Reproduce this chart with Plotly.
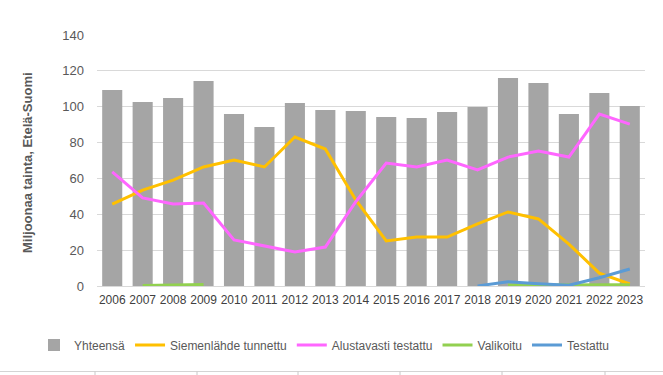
import plotly.graph_objects as go

years = [str(y) for y in range(2006, 2024)]
yhteensa = [109.3, 102.6, 104.9, 114.3, 95.9, 88.7, 102.1, 98.2, 97.6, 94.3,
            93.7, 97.0, 99.8, 116.0, 113.2, 95.9, 107.6, 100.4]
siemenlahde = [45.7, 53.5, 59.0, 66.4, 70.3, 66.4, 83.1, 76.4, 48.0, 25.1,
               27.3, 27.3, 34.6, 41.3, 37.4, 23.4, 7.2, 1.1]
alustavasti = [63.6, 49.1, 45.7, 46.3, 25.7, 22.3, 19.0, 21.7, 47.0, 68.6,
               66.4, 70.3, 64.7, 71.9, 75.3, 71.9, 95.9, 90.3]
valikoitu = [None, 0.3, 0.6, 0.8, None, None, None, None, None, None,
             None, None, None, 0.5, 0.5, 0.5, 0.9, 0.7]
testattu = [None, None, None, None, None, None, None, None, None, None,
            None, None, 0.0, 2.4, 1.3, 0.4, 4.6, 9.5]

ytitle = "Miljoonaa tainta, Etelä-Suomi"
font_family = "Liberation Sans, Arial, sans-serif"
txt = "#595959"

fig = go.Figure()
fig.add_trace(go.Bar(x=years, y=yhteensa, name="Yhteensä", marker_color="#a5a5a5",
                     marker_line_width=0))
fig.add_trace(go.Scatter(x=years, y=siemenlahde, name="Siemenlähde tunnettu", mode="lines",
                         line=dict(color="#ffc000", width=3)))
fig.add_trace(go.Scatter(x=years, y=alustavasti, name="Alustavasti testattu", mode="lines",
                         line=dict(color="#ff66ff", width=3)))
fig.add_trace(go.Scatter(x=years, y=valikoitu, name="Valikoitu", mode="lines",
                         line=dict(color="#92d050", width=3), connectgaps=False))
fig.add_trace(go.Scatter(x=years, y=testattu, name="Testattu", mode="lines",
                         line=dict(color="#5b9bd5", width=3), connectgaps=False))

W, H = 663, 375
L, R, T, B = 97, 18, 35, 89
pw, ph = W - L - R, H - T - B

def px(xp):
    return (xp - L) / pw

def py(yp):
    return (H - B - yp) / ph

shapes = [dict(type="line", xref="paper", yref="paper", x0=px(0), x1=px(W), y0=py(371.5), y1=py(371.5),
               line=dict(color="#d4d4d4", width=1))]
for tx in [95, 197, 298, 400, 502, 605]:
    shapes.append(dict(type="line", xref="paper", yref="paper", x0=px(tx), x1=px(tx),
                       y0=py(371.5), y1=py(375), line=dict(color="#c8c8c8", width=1)))

fig.update_layout(
    width=W, height=H,
    margin=dict(l=L, r=R, t=T, b=B, autoexpand=False),
    paper_bgcolor="white", plot_bgcolor="white",
    font=dict(family=font_family, size=12, color=txt),
    bargap=0.34,
    showlegend=True,
    legend=dict(orientation="h", xref="paper", yref="paper", x=px(34), y=py(345),
                xanchor="left", yanchor="middle", font=dict(size=12, color=txt),
                itemwidth=30, tracegroupgap=0, traceorder="normal", bgcolor="rgba(0,0,0,0)"),
    xaxis=dict(type="category", showgrid=False, showline=True, linecolor="#d9d9d9", linewidth=1,
               ticks="", ticklabelstandoff=3, tickfont=dict(size=12, color="#404040"), fixedrange=True),
    yaxis=dict(range=[0, 140], dtick=20, showgrid=True, gridcolor="#d9d9d9", gridwidth=1,
               zeroline=False, showline=False, ticks="", ticklabelstandoff=12,
               tickfont=dict(size=13, color=txt), fixedrange=True),
    shapes=shapes,
    annotations=[dict(text="<b>" + ytitle + "</b>", xref="paper", yref="paper",
                      x=px(27), y=py(163), textangle=-90, showarrow=False,
                      xanchor="center", yanchor="middle",
                      font=dict(size=13, color=txt))],
)

fig.write_html("out.html", config={"displayModeBar": False},
               post_script="document.body.style.margin='0';document.body.style.overflow='hidden';")
